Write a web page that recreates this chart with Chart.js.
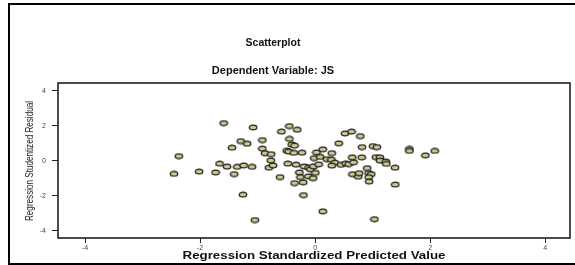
<!DOCTYPE html>
<html>
<head>
<meta charset="utf-8">
<script src="https://cdn.jsdelivr.net/npm/chart.js@4.4.0/dist/chart.umd.min.js"></script>
<style>
  html, body { margin: 0; padding: 0; background: #fff; }
</style>
</head>
<body>
<canvas id="scatterChart" width="575" height="265"></canvas>
<script>
// values
const predicted = [
  -2.454, -2.369, -2.017, -1.732, -1.662, -1.590, -1.532, -1.446, -1.408, -1.356,
  -1.294, -1.255, -1.243, -1.183, -1.096, -1.079, -1.048, -0.918, -0.918, -0.871,
  -0.805, -0.771, -0.765, -0.732, -0.610, -0.585, -0.494, -0.476, -0.459, -0.450,
  -0.447, -0.407, -0.358, -0.372, -0.358, -0.332, -0.312, -0.274, -0.256, -0.229,
  -0.208, -0.203, -0.190, -0.113, -0.116, -0.081, -0.029, -0.035, 0.003, -0.017,
  0.023, 0.061, 0.087, 0.133, 0.133, 0.203, 0.289, 0.282, 0.341, 0.289,
  0.410, 0.448, 0.519, 0.532, 0.584, 0.632, 0.644, 0.667, 0.649, 0.750,
  0.765, 0.784, 0.814, 0.809, 0.904, 0.930, 0.975, 0.930, 0.939, 1.004,
  1.074, 1.056, 1.126, 1.129, 1.228, 1.238, 1.389, 1.392, 1.030, 1.638,
  1.638, 1.917, 2.078
];
const residual = [
  -0.754, 0.263, -0.623, -0.669, -0.171, 2.149, -0.337, 0.743, -0.766, -0.354,
  1.120, -1.943, -0.269, 0.971, -0.354, 1.903, -3.394, 1.177, 0.691, 0.429,
  -0.400, 0.017, 0.371, -0.269, -0.937, 1.663, 0.571, -0.166, 0.520, 1.977,
  1.246, 0.931, 0.863, 0.446, -1.280, -0.229, 1.771, -0.669, -0.937, 0.457,
  -1.240, -1.966, -0.326, -0.400, -0.897, -0.497, -0.326, -1.000, -0.697, 0.149,
  0.474, -0.211, 0.217, 0.646, -2.897, 0.086, 0.434, 0.057, -0.114, -0.280,
  0.989, -0.240, 1.560, -0.154, -0.194, 1.663, 0.189, -0.097, -0.771, -0.914,
  -0.714, 1.400, 0.777, 0.189, -0.429, -0.709, -0.771, -0.943, -1.194, 0.834,
  0.777, 0.200, 0.189, 0.006, -0.051, -0.183, -0.400, -1.366, -3.343, 0.674,
  0.560, 0.303, 0.560
];
const xTicks = [-4, -2, 0, 2, 4];
const yTicks = [4, 2, 0, -2, -4];
const xRange = [-4.47, 4.43];
const yRange = [-4.42, 4.44];

const chartTitle = 'Scatterplot';
const chartSubtitle = 'Dependent Variable: JS';
const xTitle = 'Regression Standardized Predicted Value';
const yTitle = 'Regression Studentized Residual';

let points = [];
for (let i = 0; i < predicted.length; i++) {
    points.push({x: predicted[i], y: residual[i]});
}

// little oval marker like the SPSS ones
const dot = document.createElement('canvas');
dot.width = 10;
dot.height = 7;
const dctx = dot.getContext('2d');
dctx.beginPath();
dctx.ellipse(5, 3.5, 3.8, 2.4, 0, 0, Math.PI * 2);
dctx.fillStyle = '#cfc78f';
dctx.fill();
dctx.lineWidth = 1.2;
dctx.strokeStyle = '#1b1b1b';
dctx.stroke();

// draw text squeezed/stretched to a given width (the SPSS export is stretched)
function fitText(ctx, text, x, y, width, rotate) {
    ctx.save();
    ctx.translate(x, y);
    if (rotate) ctx.rotate(-Math.PI / 2);
    const w = ctx.measureText(text).width;
    ctx.scale(width / w, 1);
    ctx.fillText(text, 0, 0);
    ctx.restore();
}

// outer frame, plot box, headings and axis titles
const framePlugin = {
    id: 'frame',
    beforeDraw(chart) {
        const ctx = chart.ctx;
        ctx.save();
        ctx.fillStyle = '#fff';
        ctx.fillRect(0, 0, chart.width, chart.height);
        ctx.strokeStyle = '#000';
        ctx.lineWidth = 2;
        ctx.strokeRect(9, 4, 600, 260);
        ctx.fillStyle = '#111';
        ctx.textAlign = 'center';
        ctx.textBaseline = 'middle';
        ctx.font = 'bold 10.5px "Liberation Sans", Arial, sans-serif';
        ctx.fillText(chartTitle, 273, 43);
        ctx.font = 'bold 11px "Liberation Sans", Arial, sans-serif';
        ctx.fillText(chartSubtitle, 273, 71);

        const a = chart.chartArea;
        ctx.font = 'bold 11.5px "Liberation Sans", Arial, sans-serif';
        fitText(ctx, xTitle, (a.left + a.right) / 2, 256, 263, false);
        ctx.fillStyle = '#222';
        ctx.font = '10px "Liberation Sans", Arial, sans-serif';
        fitText(ctx, yTitle, 30, 161, 120, true);
        ctx.restore();
    },
    afterDatasetsDraw(chart) {
        const a = chart.chartArea;
        const ctx = chart.ctx;
        ctx.save();
        ctx.strokeStyle = '#111';
        ctx.lineWidth = 1.5;
        ctx.strokeRect(a.left, a.top, a.right - a.left, a.bottom - a.top);
        ctx.restore();
    }
};

const ctx = document.getElementById('scatterChart').getContext('2d');
const myChart = new Chart(ctx, {
    type: 'scatter',
    data: {
        datasets: [{
            label: 'residuals',
            data: points,
            pointStyle: dot,
            pointRadius: 4,
            pointHoverRadius: 4,
        }],
    },
    options: {
        responsive: false,
        animation: false,
        layout: {
            padding: {left: 20, top: 83, right: 4, bottom: 0}
        },
        plugins: {
            legend: {display: false},
            tooltip: {enabled: false},
        },
        scales: {
            x: {
                type: 'linear',
                min: xRange[0],
                max: xRange[1],
                afterBuildTicks: s => { s.ticks = xTicks.map(v => ({value: v})); },
                afterFit: s => { s.height = 27; },
                border: {display: false},
                grid: {
                    drawOnChartArea: false,
                    drawTicks: true,
                    tickLength: 5,
                    color: '#222',
                    lineWidth: 1,
                },
                ticks: {
                    color: '#444',
                    padding: 1,
                    font: {size: 7, family: '"Liberation Sans", Arial, sans-serif'},
                },
            },
            y: {
                type: 'linear',
                min: yRange[0],
                max: yRange[1],
                afterBuildTicks: s => { s.ticks = yTicks.map(v => ({value: v})); },
                afterFit: s => { s.width = 38; },
                border: {display: false},
                grid: {
                    drawOnChartArea: false,
                    drawTicks: true,
                    tickLength: 6,
                    color: '#222',
                    lineWidth: 1,
                },
                ticks: {
                    color: '#444',
                    padding: 6,
                    font: {size: 7, family: '"Liberation Sans", Arial, sans-serif'},
                },
            },
        },
    },
    plugins: [framePlugin],
});
</script>
</body>
</html>
